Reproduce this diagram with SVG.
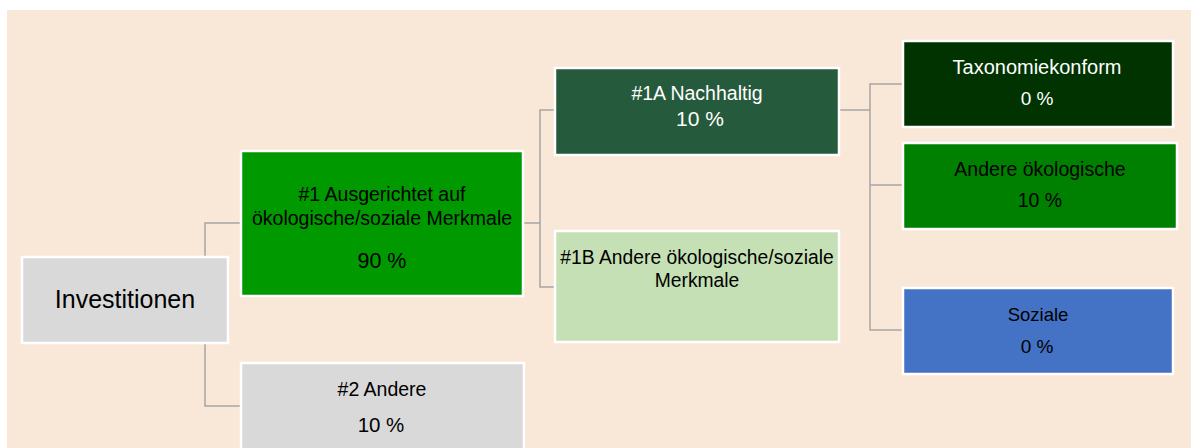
<svg xmlns="http://www.w3.org/2000/svg" width="1191" height="448" viewBox="0 0 1191 448">
<style>
.box{stroke:#FFFFFF;stroke-width:2.5}
.conn{fill:none;stroke:#A6A6A6;stroke-width:1.5}
text{font-family:"Liberation Sans",Arial,sans-serif;text-anchor:middle}
.dk{fill:#000000}
.wt{fill:#FFFFFF}
</style>
<rect x="0" y="0" width="1191" height="448" fill="#FFFFFF"/>
<rect x="7" y="10" width="1184" height="438" fill="#F9E7D7"/>
<g id="connectors">
<path class="conn" d="M241,223 H205 V406 H241"/>
<path class="conn" d="M523,223 H540 M555,110 H540 V287 H555"/>
<path class="conn" d="M840,110 H870 M903,84 H870 V330 H903 M870,185 H903"/>
</g>
<g id="investitionen">
<rect class="box" x="22" y="257" width="206" height="86" fill="#D9D9D9"/>
<text class="dk" x="125" y="308" font-size="25">Investitionen</text>
</g>
<g id="n1">
<rect class="box" x="241" y="151" width="282" height="145" fill="#009900"/>
<text class="dk" x="382" y="201" font-size="19.5">#1 Ausgerichtet auf</text>
<text class="dk" x="382" y="225" font-size="19.5">ökologische/soziale Merkmale</text>
<text class="dk" x="382" y="268" font-size="21.5">90 %</text>
</g>
<g id="n2">
<rect class="box" x="241" y="363" width="283" height="90" fill="#D9D9D9"/>
<text class="dk" x="382" y="396" font-size="19.5">#2 Andere</text>
<text class="dk" x="381" y="432" font-size="20.5">10 %</text>
</g>
<g id="n1a">
<rect class="box" x="555" y="68" width="284" height="87" fill="#265A3C"/>
<text class="wt" x="697" y="100" font-size="19.5">#1A Nachhaltig</text>
<text class="wt" x="700" y="126" font-size="21">10 %</text>
</g>
<g id="n1b">
<rect class="box" x="555" y="231" width="284" height="111" fill="#C5E0B4"/>
<text class="dk" x="697" y="264" font-size="19.3">#1B Andere ökologische/soziale</text>
<text class="dk" x="697" y="287" font-size="19.3">Merkmale</text>
</g>
<g id="taxonomiekonform">
<rect class="box" x="903" y="41" width="270" height="86" fill="#003300"/>
<text class="wt" x="1037" y="74" font-size="20">Taxonomiekonform</text>
<text class="wt" x="1037" y="105" font-size="19">0 %</text>
</g>
<g id="andere-oekologische">
<rect class="box" x="903" y="143" width="274" height="86" fill="#008000"/>
<text class="dk" x="1040" y="176" font-size="19.5">Andere ökologische</text>
<text class="dk" x="1040" y="207" font-size="19.5">10 %</text>
</g>
<g id="soziale">
<rect class="box" x="903" y="288" width="270" height="86" fill="#4472C4"/>
<text class="dk" x="1038" y="321" font-size="18.5">Soziale</text>
<text class="dk" x="1037" y="353" font-size="19">0 %</text>
</g>
</svg>
